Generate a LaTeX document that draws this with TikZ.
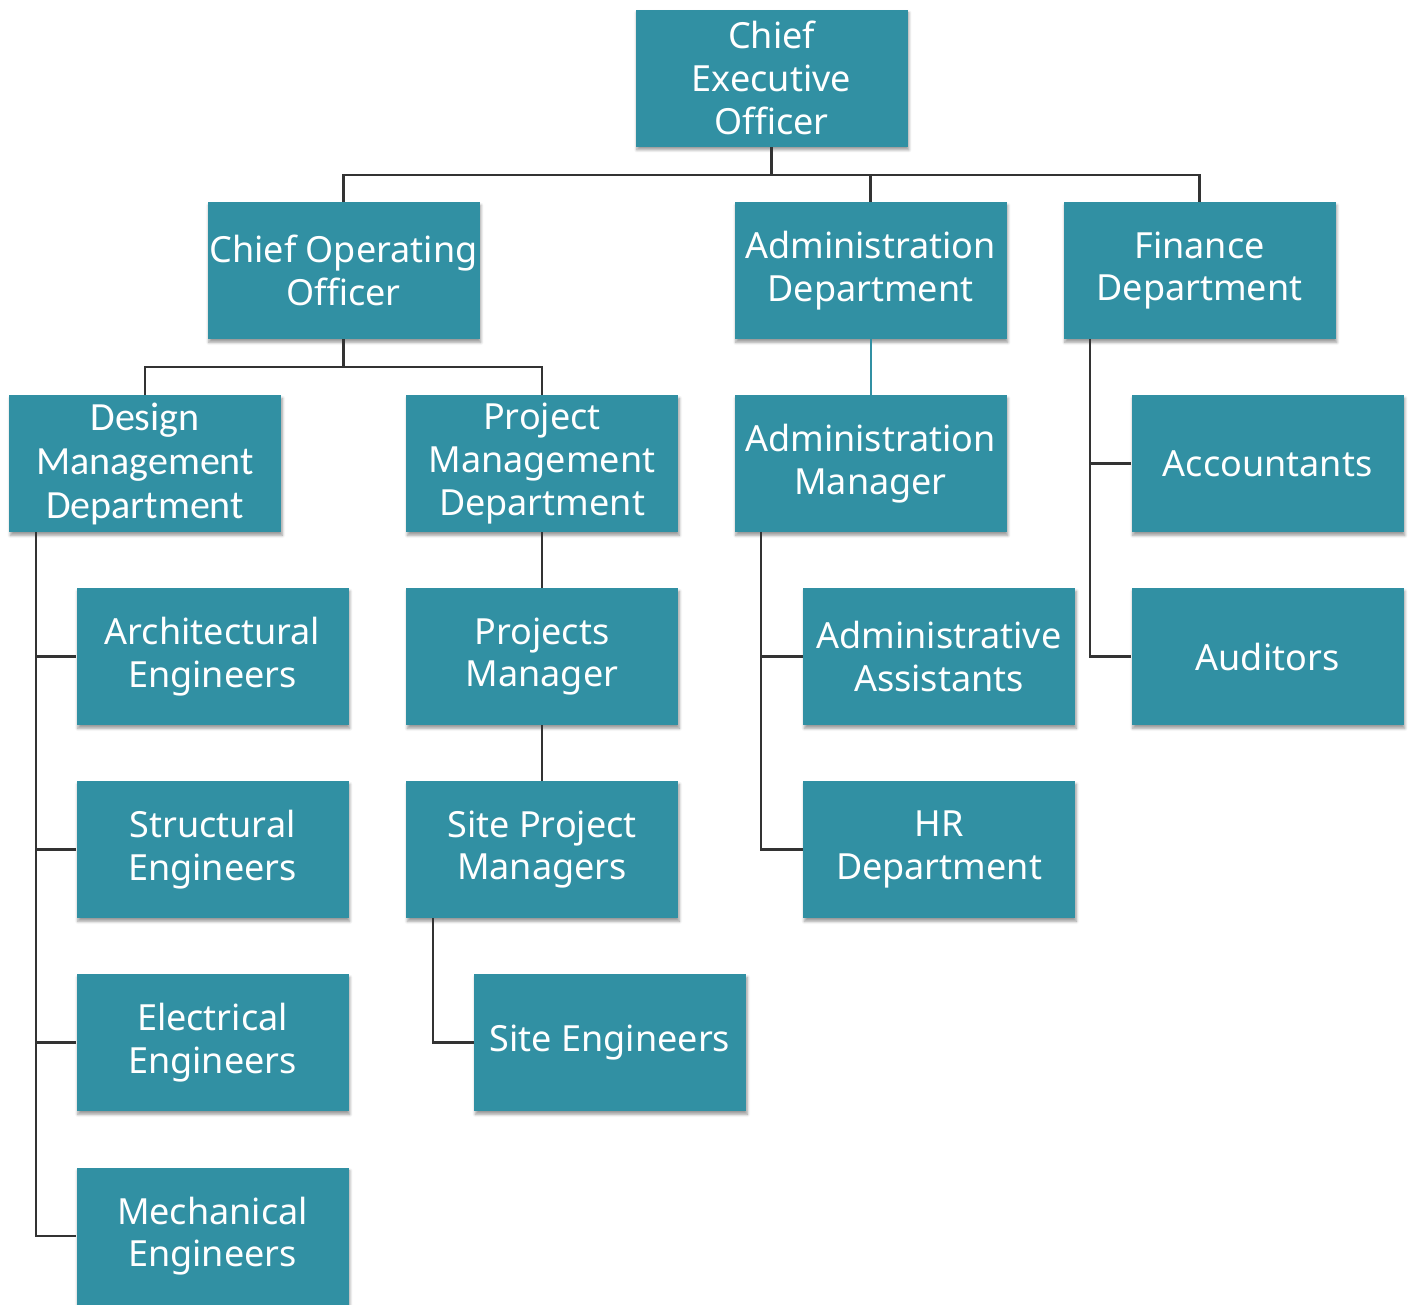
\documentclass[tikz,border=0pt]{standalone}
\usepackage{fontspec}
\setmainfont{Noto Sans}
\newfontfamily\calib{Carlito}
\usetikzlibrary{shadows.blur}

\definecolor{boxteal}{HTML}{3190A3}
\definecolor{linegray}{HTML}{333333}

\begin{document}
\begin{tikzpicture}[x=0.75pt, y=0.75pt,
    box/.style={draw=none, fill=boxteal, text=white, minimum width=204pt, minimum height=102.75pt,
      align=center, inner sep=0pt, font=\fontsize{27}{32}\selectfont,
      blur shadow={shadow xshift=1pt, shadow yshift=-2.5pt, shadow blur steps=6, shadow opacity=40}},
    link/.style={draw=linegray, line width=1.8pt}]
    \useasboundingbox (0,0) rectangle (1411,-1304);

    % top level
    \node[box] (ceo) at (771.5,-78) {Chief\\Executive\\Officer};
    \node[box] (coo) at (343.5,-270.5) {Chief Operating\\Officer};
    \node[box] (admdep) at (870.5,-270.5) {Administration\\Department};
    \node[box] (findep) at (1199.5,-270.5) {Finance\\Department};

    % departments
    \node[box, font=\calib\fontsize{30}{33}\selectfont] (desdep) at (145,-463.5) {Design\\Management\\Department};
    \node[box] (prjdep) at (542,-463.5) {Project\\Management\\Department};
    \node[box] (admmgr) at (870.5,-463.5) {Administration\\Manager};
    \node[box] (acct) at (1267.5,-463.5) {Accountants};

    \node[box] (arch) at (212.5,-656.5) {Architectural\\Engineers};
    \node[box] (prjmgr) at (542,-656.5) {Projects\\Manager};
    \node[box] (admast) at (939,-656.5) {Administrative\\Assistants};
    \node[box] (audit) at (1267.5,-656.5) {Auditors};

    \node[box] (struc) at (212.5,-849.5) {Structural\\Engineers};
    \node[box] (sitepm) at (542,-849.5) {Site Project\\Managers};
    \node[box] (hr) at (939,-849.5) {HR\\Department};

    \node[box] (elec) at (212.5,-1042.5) {Electrical\\Engineers};
    \node[box] (siteng) at (610,-1042.5) {Site Engineers};

    \node[box] (mech) at (212.5,-1236) {Mechanical\\Engineers};

    % links
    \draw[link] (ceo.south) -- ++(0,-28) coordinate (b1);
    \draw[link] (coo.north) |- (b1) -| (findep.north);
    \draw[link] (admdep.north) -- (admdep.north |- b1);

    \draw[link] (coo.south) -- ++(0,-28) coordinate (b2);
    \draw[link] (desdep.north) |- (b2) -| (prjdep.north);

    \draw[link] (desdep.south west) ++(27,0) |- (mech.west);
    \foreach \n in {arch,struc,elec}
      \draw[link] (\n.west) -- ++(-41,0);

    \draw[link] (prjdep) -- (prjmgr);
    \draw[link] (prjmgr) -- (sitepm);
    \draw[link] (sitepm.south west) ++(27,0) |- (siteng.west);

    \draw[draw=boxteal, line width=1.5pt] (admdep) -- (admmgr);
    \draw[link] (admmgr.south west) ++(27,0) |- (hr.west);
    \draw[link] (admast.west) -- ++(-41,0);

    \draw[link] (findep.south west) ++(27,0) |- (audit.west);
    \draw[link] (acct.west) -- ++(-41,0);
\end{tikzpicture}
\end{document}
